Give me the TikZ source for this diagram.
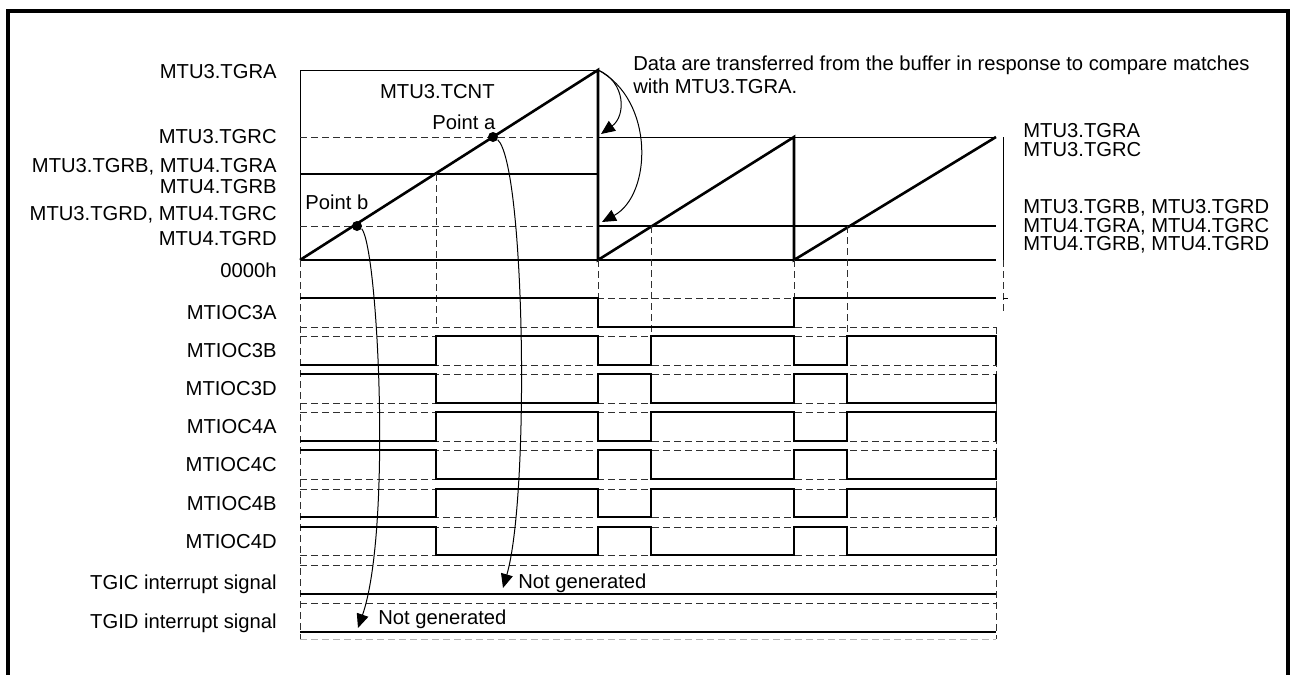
\documentclass[tikz,border=0pt]{standalone}
\usepackage{fontspec}
\setmainfont{Liberation Sans}
\usetikzlibrary{arrows.meta}
\definecolor{guide-grey}{HTML}{303030}
\definecolor{faint-grey}{HTML}{B4B4B4}

\begin{document}
\begin{tikzpicture}[x=0.5pt, y=-0.5pt,
    every node/.style={inner sep=0pt, font=\fontsize{10.1}{11.5}\selectfont},
    wave/.style={line width=1.3pt, line join=miter},
    thinline/.style={line width=0.5pt},
    guide/.style={line width=0.5pt, color=guide-grey, dash pattern=on 3.5pt off 2pt},
    dot/.style={circle, fill=black, minimum size=5pt, inner sep=0pt},
    callout/.style={line width=0.5pt, -{Triangle[length=7pt, width=6pt]}}]
    % Coordinates in pixels of the reference (x right, y down)
    %   counter: 0000h at y=260, TGRA at y=70, cycles end at x=598, 794, 996
    %   compare levels: TGRC y=137, TGRB y=174, TGRD y=226
    %   output rows: high/low pairs from y=298, pitch 38
    \useasboundingbox (0,0) rectangle (1292,675);
    \draw[line width=2pt] (8,675) -- (8,11) -- (1288,11) -- (1288,675);

    % counter region
    \draw[thinline] (300,260) -- (300,70) -- (598,70);
    \draw[guide] (300,137) -- (598,137);
    \draw[thinline] (598,137) -- (996,137);
    \draw[guide] (300,226) -- (598,226);
    \draw[wave] (300,174) -- (598,174);
    \draw[wave] (598,226) -- (996,226);
    \draw[wave] (300,260) -- (996,260);
    \draw[wave] (300,260) -- (598,70) -- (598,260) -- (794,137) -- (794,260) -- (996,137);
    \draw[thinline] (1003,137) -- (1003,260);
    \draw[guide] (1003,260) -- (1003,313);
    \draw[thinline] (1003,298) -- (1008,298);
    \node[dot] (pointA) at (493,137) {};
    \node[dot] (pointB) at (357,226) {};

    % vertical guides
    \draw[guide] (300,260) -- (300,639);
    \draw[guide] (436,174) -- (436,327);
    \draw[guide] (598,260) -- (598,298);
    \draw[guide] (651,226) -- (651,337);
    \draw[guide] (794,260) -- (794,298);
    \draw[guide] (847,226) -- (847,337);
    \draw[guide] (996,327) -- (996,639);

    % row guides (high / low)
    \draw[guide] (300,298) -- (996,298) (300,327) -- (996,327);
    \draw[guide] (300,336) -- (996,336) (300,365) -- (996,365);
    \draw[guide] (300,374) -- (996,374) (300,403) -- (996,403);
    \draw[guide] (300,412) -- (996,412) (300,441) -- (996,441);
    \draw[guide] (300,450) -- (996,450) (300,479) -- (996,479);
    \draw[guide] (300,489) -- (996,489) (300,517) -- (996,517);
    \draw[guide] (300,527) -- (996,527) (300,555) -- (996,555);
    \draw[guide] (300,565) -- (996,565);
    \draw[guide] (300,603) -- (996,603);
    \draw[guide, color=faint-grey] (300,639) -- (996,639);

    % output waveforms
    \draw[wave] (300,298) -- (598,298) -- (598,327) -- (794,327) -- (794,298) -- (996,298);
    \draw[wave] (300,365) -- (436,365) -- (436,336) -- (598,336) -- (598,365) -- (651,365)
      -- (651,336) -- (794,336) -- (794,365) -- (847,365) -- (847,336) -- (996,336) -- (996,365);
    \draw[wave] (300,374) -- (436,374) -- (436,403) -- (598,403) -- (598,374) -- (651,374)
      -- (651,403) -- (794,403) -- (794,374) -- (847,374) -- (847,403) -- (996,403) -- (996,374);
    \draw[wave] (300,441) -- (436,441) -- (436,412) -- (598,412) -- (598,441) -- (651,441)
      -- (651,412) -- (794,412) -- (794,441) -- (847,441) -- (847,412) -- (996,412) -- (996,441);
    \draw[wave] (300,450) -- (436,450) -- (436,479) -- (598,479) -- (598,450) -- (651,450)
      -- (651,479) -- (794,479) -- (794,450) -- (847,450) -- (847,479) -- (996,479) -- (996,450);
    \draw[wave] (300,517) -- (436,517) -- (436,489) -- (598,489) -- (598,517) -- (651,517)
      -- (651,489) -- (794,489) -- (794,517) -- (847,517) -- (847,489) -- (996,489) -- (996,517);
    \draw[wave] (300,527) -- (436,527) -- (436,555) -- (598,555) -- (598,527) -- (651,527)
      -- (651,555) -- (794,555) -- (794,527) -- (847,527) -- (847,555) -- (996,555) -- (996,527);
    \draw[wave] (300,594) -- (996,594);
    \draw[wave] (300,632) -- (996,632);

    % register labels
    \node[anchor=base east] (lblTgra) at (277,78) {MTU3.TGRA};
    \node[anchor=base east] (lblTgrc) at (277,143) {MTU3.TGRC};
    \node[anchor=base east] (lblTgrb) at (277,172) {MTU3.TGRB, MTU4.TGRA};
    \node[anchor=base east] (lblTgrb4) at (277,193) {MTU4.TGRB};
    \node[anchor=base east] (lblTgrd) at (277,220) {MTU3.TGRD, MTU4.TGRC};
    \node[anchor=base east] (lblTgrd4) at (277,245) {MTU4.TGRD};
    \node[anchor=base east] (lblZero) at (277,277) {0000h};
    \node[anchor=base east] (tcnt) at (495,98) {MTU3.TCNT};
    \node[anchor=base west] (lblPtA) at (432,129) {Point a};
    \node[anchor=base west] (lblPtB) at (305,209) {Point b};

    % right-hand buffer labels
    \node[anchor=base west] (bufA) at (1023,137) {MTU3.TGRA};
    \node[anchor=base west] (bufC) at (1023,156) {MTU3.TGRC};
    \node[anchor=base west] (bufB) at (1023,213) {MTU3.TGRB, MTU3.TGRD};
    \node[anchor=base west] (bufD) at (1023,232) {MTU4.TGRA, MTU4.TGRC};
    \node[anchor=base west] (bufE) at (1023,250) {MTU4.TGRB, MTU4.TGRD};

    % transfer note
    \node[anchor=base west] (note1) at (633,70) {Data are transferred from the buffer in response to compare matches};
    \node[anchor=base west] (note2) at (633,93) {with MTU3.TGRA.};

    % signal labels
    \node[anchor=base east] (sig3A) at (277,319) {MTIOC3A};
    \node[anchor=base east] (sig3B) at (277,357) {MTIOC3B};
    \node[anchor=base east] (sig3D) at (277,395) {MTIOC3D};
    \node[anchor=base east] (sig4A) at (277,433) {MTIOC4A};
    \node[anchor=base east] (sig4C) at (277,471) {MTIOC4C};
    \node[anchor=base east] (sig4B) at (277,510) {MTIOC4B};
    \node[anchor=base east] (sig4D) at (277,548) {MTIOC4D};
    \node[anchor=base east] (sigTgic) at (277,589) {TGIC interrupt signal};
    \node[anchor=base east] (sigTgid) at (277,628) {TGID interrupt signal};
    \node[anchor=base west] (ngC) at (518,588) {Not generated};
    \node[anchor=base west] (ngD) at (378,624) {Not generated};

    % callouts
    \coordinate (peak) at (598,70);
    \coordinate (loadC) at (601,134);
    \coordinate (loadD) at (602,222);
    \draw[callout] (peak) .. controls (626,82) and (626,116) .. (loadC);
    \draw[callout] (peak) .. controls (655,100) and (652,195) .. (loadD);
    \draw[callout] (pointA.-30) .. controls (525,165) and (530,495) .. ([xshift=-7.5pt]ngC.base west);
    \draw[callout] (pointB.-30) .. controls (378,248) and (392,530) .. ([xshift=-10pt, yshift=-2pt]ngD.base west);
\end{tikzpicture}
\end{document}
